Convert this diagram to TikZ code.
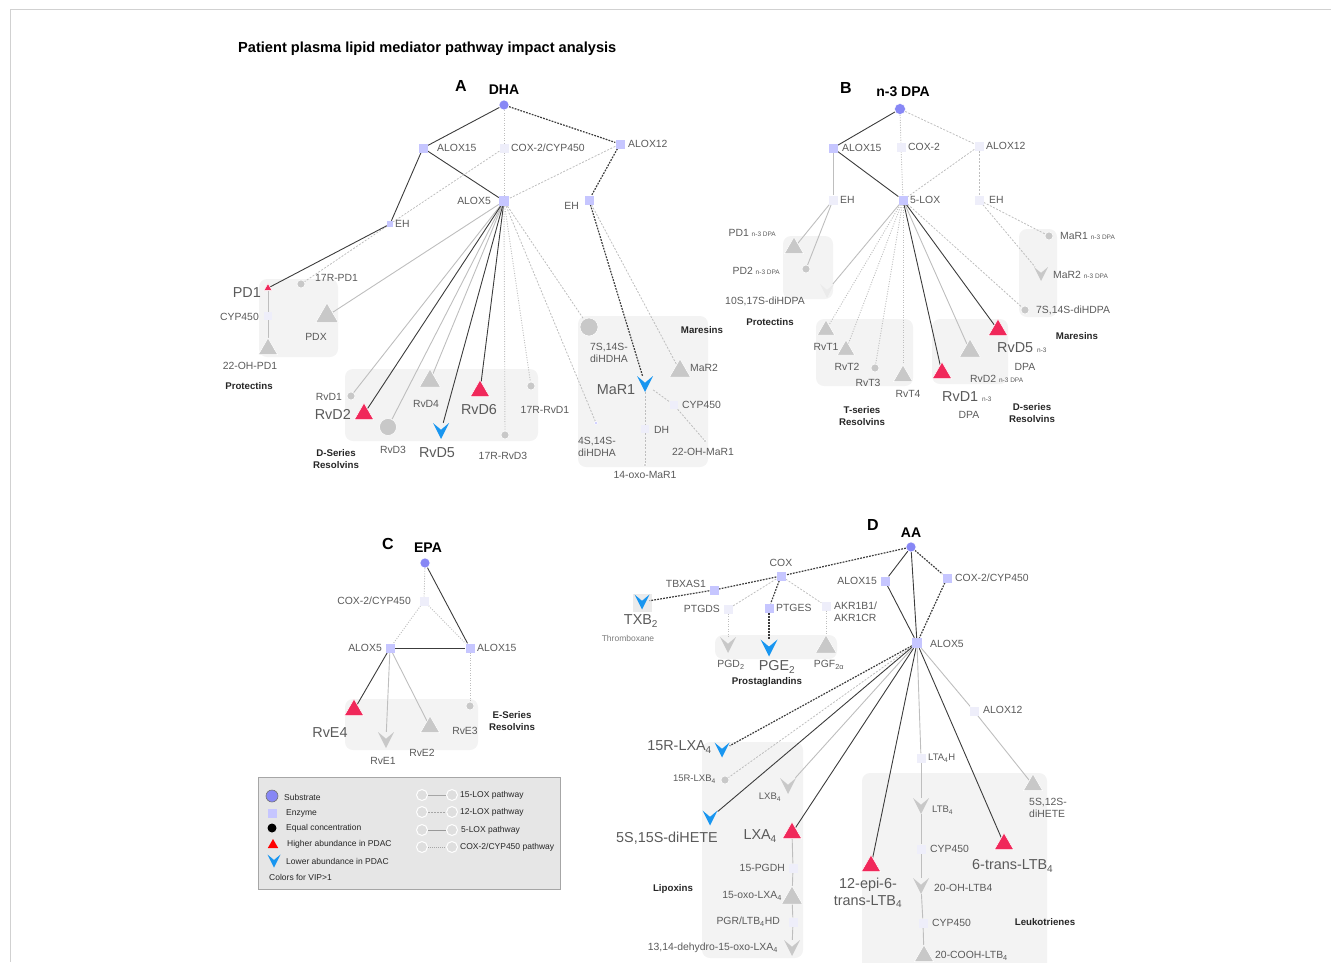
\documentclass[tikz,border=0pt]{standalone}
\usepackage{fontspec}
\setmainfont{Liberation Sans}
\usetikzlibrary{shapes.geometric,calc}
\pgfdeclarelayer{bg}\pgfdeclarelayer{edges}
\pgfsetlayers{bg,edges,main}
\definecolor{subs}{RGB}{135,135,245}
\definecolor{enzA}{RGB}{198,198,255}
\definecolor{enzB}{RGB}{238,238,250}
\definecolor{redM}{RGB}{240,40,90}
\definecolor{blueM}{RGB}{25,150,240}
\definecolor{grayM}{RGB}{200,200,200}
\definecolor{boxF}{RGB}{243,243,243}
\definecolor{dkL}{RGB}{60,60,60}
\definecolor{ltL}{RGB}{190,190,190}
\definecolor{txtG}{RGB}{90,90,90}
\definecolor{legF}{RGB}{230,230,230}
\newcommand{\nthr}[1]{{\fontsize{6.5}{7}\selectfont #1}}
\tikzset{
 circM/.style 2 args={circle, inner sep=0pt, minimum size=#1, fill=#2, draw=white, line width=0.5pt},
 sqM/.style 2 args={rectangle, inner sep=0pt, minimum size=#1, fill=#2},
 triM/.style 2 args={regular polygon, regular polygon sides=3, inner sep=0pt, minimum size=#1, fill=#2, draw=white, line width=0.5pt},
 chevM/.style 2 args={rectangle, inner sep=0pt, minimum width=#1, minimum height=#1,
   path picture={\fill[#2] (path picture bounding box.north west) -- (path picture bounding box.south) -- (path picture bounding box.north east) -- ($(path picture bounding box.north)!0.42!(path picture bounding box.south)$) -- cycle;}},
 sqA/.style={sqM={9}{enzA}},
 sqB/.style={sqM={9}{enzB}},
 eS/.style={draw=dkL, line width=0.9pt},
 eL/.style={draw=ltL, line width=0.9pt},
 eD/.style={draw=dkL, line width=1.2pt, dash pattern=on 1.8pt off 1.2pt},
 eDl/.style={draw=ltL, line width=0.8pt, dash pattern=on 2pt off 1.5pt},
 eT/.style={draw=ltL, line width=0.9pt, dash pattern=on 1pt off 1.5pt},
 lbl/.style={font=\fontsize{10.4}{12.5}\selectfont, text=txtG, inner sep=0pt},
 big/.style={font=\fontsize{14.4}{16.5}\selectfont, text=txtG, inner sep=0pt, align=center},
 sml/.style={font=\fontsize{8.5}{10}\selectfont, text=txtG!80, inner sep=0pt},
 grp/.style={font=\fontsize{9.7}{12.5}\selectfont\bfseries, text=black!85, inner sep=0pt, align=center},
 hd/.style={font=\fontsize{14}{16}\selectfont\bfseries, inner sep=0pt},
 ltr/.style={font=\fontsize{16}{18}\selectfont\bfseries, inner sep=0pt},
 leg/.style={font=\fontsize{8.5}{10}\selectfont, inner sep=0pt, anchor=west, text=black!85},
 grpbox/.style={fill=boxF, rounded corners=8pt},
 pwc/.style={circle, inner sep=0pt, minimum size=11, fill=black!13, draw=white, line width=1pt},
}
\begin{document}
\begin{tikzpicture}[x=1pt,y=-1pt]
\useasboundingbox (0,0) rectangle (1331,962);
\draw[black!18, line width=0.8pt] (1331,9) -- (10,9) -- (10,962);
\node[font=\fontsize{14.6}{16}\selectfont\bfseries, anchor=west, inner sep=0pt] (title) at (238,49) {Patient plasma lipid mediator pathway impact analysis};

% ================= group boxes =================
\begin{pgfonlayer}{bg}
\fill[grpbox] (259,279) rectangle (338,357);
\fill[grpbox] (345,369) rectangle (538,441);
\fill[grpbox] (578,316) rectangle (708,467);
\fill[grpbox] (783,236) rectangle (833,299);
\fill[grpbox] (816,319) rectangle (913,386);
\fill[grpbox] (932,319) rectangle (1008,384);
\fill[grpbox] (1019,229) rectangle (1057,317);
\fill[grpbox] (345,699) rectangle (478,750);
\fill[grpbox] (715,635) rectangle (837,659);
\fill[grpbox] (702,742) rectangle (803,958);
\fill[grpbox] (862,773) rectangle (1047,975);
\fill[black!8] (633,594) rectangle (652,612);
\end{pgfonlayer}

% ================= Panel A =================
\node[ltr] (Aletter) at (461,86) {A};
\node[hd] (DHAlbl) at (504,90) {DHA};
\node[circM={10}{subs}] (aDHA) at (504,105) {};
\node[sqA] (aALOX15) at (423,148) {};
\node[sqB] (aCOX) at (504,148) {};
\node[sqA] (aALOX12) at (620,144) {};
\node[sqM={10}{enzA}] (aALOX5) at (504,201) {};
\node[sqM={6}{enzA}] (aEH1) at (390,224) {};
\node[sqA] (aEH2) at (589,200) {};
\node[triM={9}{redM}] (aPD1) at (268,288) {};
\node[sqM={8}{enzB}] (aCYP1) at (268,316) {};
\node[triM={22}{grayM}] (aOHPD1) at (268,349) {};
\node[circM={8}{grayM}] (a17RPD1) at (301,284) {};
\node[triM={26}{grayM}] (aPDX) at (327,316) {};
\node[circM={8}{grayM}] (aRvD1) at (351,396) {};
\node[triM={22}{redM}] (aRvD2) at (364,414) {};
\node[circM={17}{grayM}] (aRvD3) at (388,427) {};
\node[triM={24}{grayM}] (aRvD4) at (430,381) {};
\node[chevM={16}{blueM}] (aRvD5) at (441,431) {};
\node[triM={22}{redM}] (aRvD6) at (480,391) {};
\node[circM={8}{grayM}] (a17RRvD1) at (531,386) {};
\node[circM={8}{grayM}] (a17RRvD3) at (505,435) {};
\node[circM={18}{grayM}] (a7S14S) at (589,327) {};
\node[chevM={16}{blueM}] (aMaR1) at (645,384) {};
\node[triM={24}{grayM}] (aMaR2) at (680,371) {};
\node[sqM={8}{enzB}] (aCYP2) at (674,405) {};
\node[sqM={8}{enzB}] (aDH) at (645,429) {};
\node[circM={3.5}{grayM}] (a22OH) at (705,441) {};
\node[circM={3.5}{enzA}] (a4S14S) at (596,423) {};
\node[circM={3.5}{grayM}] (a14oxo) at (645,465) {};

\node[lbl, anchor=west] (laALOX15) at (437,148) {ALOX15};
\node[lbl, anchor=west] (laCOX) at (511,148) {COX-2/CYP450};
\node[lbl, anchor=west] (laALOX12) at (628,144) {ALOX12};
\node[lbl, anchor=east] (laALOX5) at (491,201) {ALOX5};
\node[lbl, anchor=west] (laEH1) at (395,224) {EH};
\node[lbl, anchor=east] (laEH2) at (579,206) {EH};
\node[big, anchor=east] (laPD1) at (261,293) {PD1};
\node[lbl, anchor=east] (laCYP1) at (259,317) {CYP450};
\node[lbl] (laOHPD1) at (250,366) {22-OH-PD1};
\node[lbl, anchor=west] (la17RPD1) at (315,278) {17R-PD1};
\node[lbl] (laPDX) at (316,337) {PDX};
\node[grp] (laProt) at (249,386) {Protectins};
\node[lbl, anchor=east] (laRvD1) at (342,397) {RvD1};
\node[big, anchor=east] (laRvD2) at (351,414) {RvD2};
\node[lbl] (laRvD3) at (393,450) {RvD3};
\node[lbl] (laRvD4) at (426,404) {RvD4};
\node[big] (laRvD5) at (437,453) {RvD5};
\node[big] (laRvD6) at (479,410) {RvD6};
\node[lbl] (la17RRvD1) at (545,410) {17R-RvD1};
\node[lbl] (la17RRvD3) at (503,456) {17R-RvD3};
\node[grp] (laDser) at (336,459) {D-Series\\Resolvins};
\node[lbl, align=left, anchor=west] (la7S14S) at (590,353) {7S,14S-\\diHDHA};
\node[grp] (laMar) at (702,330) {Maresins};
\node[big] (laMaR1) at (616,390) {MaR1};
\node[lbl, anchor=west] (laMaR2) at (690,368) {MaR2};
\node[lbl, anchor=west] (laCYP2) at (682,405) {CYP450};
\node[lbl, anchor=west] (laDH) at (654,430) {DH};
\node[lbl] (la22OH) at (703,452) {22-OH-MaR1};
\node[lbl, align=left, anchor=west] (la4S14S) at (578,447) {4S,14S-\\diHDHA};
\node[lbl] (la14oxo) at (645,475) {14-oxo-MaR1};

\begin{pgfonlayer}{edges}
\draw[eS] (aDHA) -- (aALOX15);
\draw[eT] (aDHA) -- (aCOX);
\draw[eD] (aDHA) -- (aALOX12);
\draw[eS] (aALOX15) -- (aALOX5);
\draw[eS] (aALOX15) -- (aEH1);
\draw[eT] (aCOX) -- (aALOX5);
\draw[eDl] (aCOX) -- (aEH1);
\draw[eDl] (aEH1) -- (a17RPD1);
\draw[eDl] (aALOX12) -- (aALOX5);
\draw[eD] (aALOX12) -- (aEH2);
\draw[eS] (aEH1) -- (aPD1);
\draw[eL] (aPD1) -- (aCYP1);
\draw[eL] (aCYP1) -- (aOHPD1);
\foreach \t in {aPDX,aRvD1,aRvD3,aRvD4} \draw[eL] (aALOX5) -- (\t);
\foreach \t in {aRvD2,aRvD5,aRvD6} \draw[eS] (aALOX5) -- (\t);
\foreach \t in {a17RRvD1,a17RRvD3} \draw[eT] (aALOX5) -- (\t);
\foreach \t in {a4S14S,a7S14S} \draw[eDl] (aALOX5) -- (\t);
\draw[eD] (aEH2) -- (aMaR1);
\draw[eDl] (aEH2) -- (aMaR2);
\draw[eDl] (aMaR1) -- (aCYP2);
\draw[eDl] (aCYP2) -- (a22OH);
\draw[eDl] (aMaR1) -- (aDH);
\draw[eDl] (aDH) -- (a14oxo);
\end{pgfonlayer}

% ================= Panel B =================
\node[ltr] (Bletter) at (846,88) {B};
\node[hd] (DPAlbl) at (903,92) {n-3 DPA};
\node[circM={11}{subs}] (bDPA) at (900,109) {};
\node[sqA] (bALOX15) at (833,148) {};
\node[sqB] (bCOX) at (901,147) {};
\node[sqB] (bALOX12) at (979,146) {};
\node[sqB] (bEH1) at (833,200) {};
\node[sqA] (bLOX5) at (903,200) {};
\node[sqB] (bEH2) at (979,200) {};
\node[triM={22}{grayM}] (bPD1) at (794,248) {};
\node[circM={8}{grayM}] (bPD2) at (806,269) {};
\node[chevM={14}{black!8}] (b10S17S) at (827,291) {};
\node[triM={20}{grayM}] (bRvT1) at (826,330) {};
\node[triM={20}{grayM}] (bRvT2) at (846,350) {};
\node[circM={8}{grayM}] (bRvT3) at (875,368) {};
\node[triM={22}{grayM}] (bRvT4) at (903,376) {};
\node[triM={22}{redM}] (bRvD1) at (942,373) {};
\node[triM={24}{grayM}] (bRvD2) at (970,351) {};
\node[triM={22}{redM}] (bRvD5) at (998,330) {};
\node[circM={8}{grayM}] (bMaR1) at (1049,236) {};
\node[chevM={14}{grayM}] (bMaR2) at (1041,274) {};
\node[circM={8}{grayM}] (b7S14S) at (1025,310) {};

\node[lbl, anchor=west] (lbALOX15) at (842,148) {ALOX15};
\node[lbl, anchor=west] (lbCOX) at (908,147) {COX-2};
\node[lbl, anchor=west] (lbALOX12) at (986,146) {ALOX12};
\node[lbl, anchor=west] (lbEH1) at (840,200) {EH};
\node[lbl, anchor=west] (lbLOX5) at (910,200) {5-LOX};
\node[lbl, anchor=west] (lbEH2) at (989,200) {EH};
\node[lbl, anchor=east] (lbPD1) at (776,233) {PD1 \nthr{n-3 DPA}};
\node[lbl, anchor=east] (lbPD2) at (780,271) {PD2 \nthr{n-3 DPA}};
\node[lbl] (lb10S17S) at (765,301) {10S,17S-diHDPA};
\node[grp] (lbProt) at (770,322) {Protectins};
\node[lbl] (lbRvT1) at (826,347) {RvT1};
\node[lbl] (lbRvT2) at (847,367) {RvT2};
\node[lbl] (lbRvT3) at (868,383) {RvT3};
\node[lbl] (lbRvT4) at (908,394) {RvT4};
\node[grp] (lbTser) at (862,416) {T-series\\Resolvins};
\node[big, anchor=west] (lbRvD5) at (997,348) {RvD5 \nthr{n-3}};
\node[lbl] (lbRvD5b) at (1025,367) {DPA};
\node[lbl, anchor=west] (lbRvD2) at (970,379) {RvD2 \nthr{n-3 DPA}};
\node[big, anchor=west] (lbRvD1) at (942,397) {RvD1 \nthr{n-3}};
\node[lbl] (lbRvD1b) at (969,415) {DPA};
\node[grp] (lbDser) at (1032,413) {D-series\\Resolvins};
\node[lbl, anchor=west] (lbMaR1) at (1060,236) {MaR1 \nthr{n-3 DPA}};
\node[lbl, anchor=west] (lbMaR2) at (1053,275) {MaR2 \nthr{n-3 DPA}};
\node[lbl, anchor=west] (lb7S14S) at (1036,310) {7S,14S-diHDPA};
\node[grp] (lbMar) at (1077,336) {Maresins};

\begin{pgfonlayer}{edges}
\draw[eS] (bDPA) -- (bALOX15);
\draw[eT] (bDPA) -- (bCOX);
\draw[eDl] (bDPA) -- (bALOX12);
\draw[eL] (bALOX15) -- (bEH1);
\draw[eS] (bALOX15) -- (bLOX5);
\draw[eT] (bCOX) -- (bLOX5);
\draw[eDl] (bALOX12) -- (bLOX5);
\draw[eDl] (bALOX12) -- (bEH2);
\draw[eL] (bEH1) -- (bPD1);
\draw[eL] (bEH1) -- (bPD2);
\draw[eL] (bLOX5) -- (b10S17S);
\foreach \t in {bRvT1,bRvT2,bRvT3,bRvT4} \draw[eT] (bLOX5) -- (\t);
\draw[eS] (bLOX5) -- (bRvD1);
\draw[eL] (bLOX5) -- (bRvD2);
\draw[eS] (bLOX5) -- (bRvD5);
\draw[eDl] (bLOX5) -- (b7S14S);
\draw[eDl] (bEH2) -- (bMaR1);
\draw[eDl] (bEH2) -- (bMaR2);
\end{pgfonlayer}

% ================= Panel C =================
\node[ltr] (Cletter) at (388,544) {C};
\node[hd] (EPAlbl) at (428,548) {EPA};
\node[circM={10}{subs}] (cEPA) at (425,563) {};
\node[sqB] (cCOX) at (424,601) {};
\node[sqA] (cALOX5) at (390,648) {};
\node[sqA] (cALOX15) at (470,648) {};
\node[triM={22}{redM}] (cRvE4) at (354,710) {};
\node[chevM={16}{grayM}] (cRvE1) at (386,740) {};
\node[triM={22}{grayM}] (cRvE2) at (430,727) {};
\node[circM={8}{grayM}] (cRvE3) at (470,706) {};
\node[lbl, anchor=east] (lcCOX) at (411,601) {COX-2/CYP450};
\node[lbl, anchor=east] (lcALOX5) at (382,648) {ALOX5};
\node[lbl, anchor=west] (lcALOX15) at (477,648) {ALOX15};
\node[big] (lcRvE4) at (330,733) {RvE4};
\node[lbl] (lcRvE1) at (383,761) {RvE1};
\node[lbl] (lcRvE2) at (422,753) {RvE2};
\node[lbl] (lcRvE3) at (465,731) {RvE3};
\node[grp] (lcEser) at (512,721) {E-Series\\Resolvins};
\begin{pgfonlayer}{edges}
\draw[eT] (cEPA) -- (cCOX);
\draw[eS] (cEPA) -- (cALOX15);
\draw[eT] (cCOX) -- (cALOX5);
\draw[eT] (cCOX) -- (cALOX15);
\draw[eS] (cALOX5) -- (cALOX15);
\draw[eS] (cALOX5) -- (cRvE4);
\draw[eL] (cALOX5) -- (cRvE1);
\draw[eL] (cALOX5) -- (cRvE2);
\draw[eT] (cALOX15) -- (cRvE3);
\end{pgfonlayer}

% ================= Legend =================
\node[draw=black!35, fill=legF, minimum width=302, minimum height=112, inner sep=0pt, anchor=north west, line width=0.8pt] (legbox) at (258,777) {};
\node[circle, inner sep=0pt, minimum size=12, fill=subs, draw=black!55, line width=0.6pt] (gSub) at (272,796) {};
\node[sqM={9}{enzA}] (gEnz) at (272,813) {};
\node[circle, inner sep=0pt, minimum size=9, fill=black] (gEq) at (272,828) {};
\node[regular polygon, regular polygon sides=3, inner sep=0pt, minimum size=12, fill=red] (gHi) at (273,845) {};
\node[chevM={13}{blueM}] (gLo) at (274,861) {};
\node[leg] (tSub) at (284,797) {Substrate};
\node[leg] (tEnz) at (286,813) {Enzyme};
\node[leg] (tEq) at (286,828) {Equal concentration};
\node[leg] (tHi) at (287,844) {Higher abundance in PDAC};
\node[leg] (tLo) at (286,861) {Lower abundance in PDAC};
\node[leg] (tVIP) at (269,877) {Colors for VIP>1};
\node[pwc] (p1a) at (422,795) {}; \node[pwc] (p1b) at (452,795) {};
\node[pwc] (p2a) at (422,812) {}; \node[pwc] (p2b) at (452,812) {};
\node[pwc] (p3a) at (422,830) {}; \node[pwc] (p3b) at (452,830) {};
\node[pwc] (p4a) at (422,847) {}; \node[pwc] (p4b) at (452,847) {};
\draw[black!35, line width=0.7pt] (p1a) -- (p1b);
\draw[black!35, line width=0.7pt, dash pattern=on 2pt off 1pt] (p2a) -- (p2b);
\draw[black!40, line width=1pt] (p3a) -- (p3b);
\draw[black!35, line width=0.7pt, dash pattern=on 1pt off 1pt] (p4a) -- (p4b);
\node[leg] (tP1) at (460,795) {15-LOX pathway};
\node[leg] (tP2) at (460,812) {12-LOX pathway};
\node[leg] (tP3) at (461,830) {5-LOX pathway};
\node[leg] (tP4) at (460,847) {COX-2/CYP450 pathway};

% ================= Panel D =================
\node[ltr] (Dletter) at (873,525) {D};
\node[hd] (AAlbl) at (911,533) {AA};
\node[circM={10}{subs}] (dAA) at (911,547) {};
\node[sqA] (dCOX) at (781,576) {};
\node[sqA] (dTBX) at (714,590) {};
\node[chevM={15}{blueM}] (dTXB2) at (642,602) {};
\node[sqB] (dPTGDS) at (728,609) {};
\node[sqA] (dPTGES) at (769,608) {};
\node[sqB] (dAKR) at (826,606) {};
\node[chevM={16}{grayM}] (dPGD2) at (728,645) {};
\node[chevM={17}{blueM}] (dPGE2) at (769,648) {};
\node[triM={24}{grayM}] (dPGF2) at (826,647) {};
\node[sqA] (dALOX15) at (885,581) {};
\node[sqA] (dCOX2) at (947,578) {};
\node[sqM={10}{enzA}] (dALOX5) at (917,643) {};
\node[sqB] (dALOX12) at (974,711) {};
\node[chevM={15}{blueM}] (d15RLXA4) at (722,750) {};
\node[circM={8}{grayM}] (d15RLXB4) at (725,780) {};
\node[chevM={16}{grayM}] (dLXB4) at (788,786) {};
\node[chevM={15}{blueM}] (d5S15S) at (710,818) {};
\node[triM={22}{redM}] (dLXA4) at (792,833) {};
\node[sqB] (dPGDH) at (793,868) {};
\node[triM={24}{grayM}] (d15oxo) at (792,898) {};
\node[sqB] (dPGR) at (793,922) {};
\node[chevM={16}{grayM}] (d1314) at (792,948) {};
\node[sqB] (dLTA4H) at (921,758) {};
\node[chevM={16}{grayM}] (dLTB4) at (921,806) {};
\node[sqB] (dCYPa) at (921,849) {};
\node[chevM={16}{grayM}] (d20OH) at (921,886) {};
\node[sqB] (dCYPb) at (923,923) {};
\node[triM={22}{grayM}] (d20COOH) at (924,956) {};
\node[triM={22}{redM}] (d12epi) at (871,866) {};
\node[triM={22}{redM}] (d6trans) at (1004,844) {};
\node[triM={22}{grayM}] (d5S12S) at (1033,785) {};

\node[lbl] (ldCOX) at (781,563) {COX};
\node[lbl, anchor=east] (ldTBX) at (706,584) {TBXAS1};
\node[big] (ldTXB2) at (641,621) {TXB\textsubscript{2}};
\node[sml] (ldThr) at (628,638) {Thromboxane};
\node[lbl, anchor=east] (ldPTGDS) at (720,609) {PTGDS};
\node[lbl, anchor=west] (ldPTGES) at (776,608) {PTGES};
\node[lbl, anchor=west, align=left] (ldAKR) at (834,612) {AKR1B1/\\AKR1CR};
\node[lbl] (ldPGD2) at (731,665) {PGD\textsubscript{2}};
\node[big] (ldPGE2) at (777,667) {PGE\textsubscript{2}};
\node[lbl] (ldPGF2) at (829,665) {PGF\textsubscript{2α}};
\node[grp] (ldProst) at (767,682) {Prostaglandins};
\node[lbl, anchor=east] (ldALOX15) at (877,581) {ALOX15};
\node[lbl, anchor=west] (ldCOX2) at (955,578) {COX-2/CYP450};
\node[lbl, anchor=west] (ldALOX5) at (930,644) {ALOX5};
\node[lbl, anchor=west] (ldALOX12) at (983,710) {ALOX12};
\node[big, anchor=east] (ld15RLXA4) at (712,747) {15R-LXA\textsubscript{4}};
\node[lbl, anchor=east, font=\fontsize{9.5}{11}\selectfont] (ld15RLXB4) at (716,779) {15R-LXB\textsubscript{4}};
\node[lbl, font=\fontsize{9.5}{11}\selectfont] (ldLXB4) at (770,797) {LXB\textsubscript{4}};
\node[big] (ld5S15S) at (667,838) {5S,15S-diHETE};
\node[big, anchor=east] (ldLXA4) at (777,836) {LXA\textsubscript{4}};
\node[lbl, anchor=east] (ldPGDH) at (785,868) {15-PGDH};
\node[lbl, anchor=east] (ld15oxo) at (782,896) {15-oxo-LXA\textsubscript{4}};
\node[lbl, anchor=east] (ldPGR) at (780,922) {PGR/LTB\textsubscript{4}HD};
\node[lbl, anchor=east] (ld1314) at (778,948) {13,14-dehydro-15-oxo-LXA\textsubscript{4}};
\node[grp] (ldLipox) at (673,889) {Lipoxins};
\node[lbl, anchor=west, font=\fontsize{9.5}{11}\selectfont] (ldLTA4H) at (928,758) {LTA\textsubscript{4}H};
\node[lbl, anchor=west, font=\fontsize{9.5}{11}\selectfont] (ldLTB4) at (932,810) {LTB\textsubscript{4}};
\node[lbl, anchor=west] (ldCYPa) at (930,849) {CYP450};
\node[lbl, anchor=west] (ld20OH) at (934,888) {20-OH-LTB4};
\node[lbl, anchor=west] (ldCYPb) at (932,923) {CYP450};
\node[lbl, anchor=west] (ld20COOH) at (935,956) {20-COOH-LTB\textsubscript{4}};
\node[big] (ld12epi) at (868,893) {12-epi-6-\\trans-LTB\textsubscript{4}};
\node[big, anchor=west] (ld6trans) at (972,866) {6-trans-LTB\textsubscript{4}};
\node[lbl, align=left] (ld5S12S) at (1048,808) {5S,12S-\\diHETE};
\node[grp] (ldLeuk) at (1045,922) {Leukotrienes};

\begin{pgfonlayer}{edges}
\draw[eD] (dAA) -- (dCOX);
\draw[eD] (dCOX) -- (dTBX);
\draw[eD] (dTBX) -- (dTXB2);
\draw[eDl] (dCOX) -- (dPTGDS);
\draw[eD] (dCOX) -- (dPTGES);
\draw[eDl] (dCOX) -- (dAKR);
\draw[eT] (dPTGDS) -- (dPGD2);
\draw[eD] (dPTGES) -- (dPGE2);
\draw[eT] (dAKR) -- (dPGF2);
\draw[eS] (dAA) -- (dALOX15);
\draw[eS] (dAA) -- (dALOX5);
\draw[eD] (dAA) -- (dCOX2);
\draw[eD] (dCOX2) -- (dALOX5);
\draw[eS] (dALOX15) -- (dALOX5);
\draw[eD] (dALOX5) -- (d15RLXA4);
\draw[eDl] (dALOX5) -- (d15RLXB4);
\foreach \t in {d5S15S,dLXA4,d12epi,d6trans} \draw[eS] (dALOX5) -- (\t);
\foreach \t in {dLXB4,dLTA4H,dALOX12} \draw[eL] (dALOX5) -- (\t);
\draw[eL] (dALOX12) -- (d5S12S);
\draw[eL] (dLTA4H) -- (dLTB4);
\draw[eL] (dLTB4) -- (dCYPa);
\draw[eL] (dCYPa) -- (d20OH);
\draw[eL] (d20OH) -- (dCYPb);
\draw[eL] (dCYPb) -- (d20COOH);
\draw[eL] (dLXA4) -- (dPGDH);
\draw[eL] (dPGDH) -- (d15oxo);
\draw[eL] (d15oxo) -- (dPGR);
\draw[eL] (dPGR) -- (d1314);
\end{pgfonlayer}
\end{tikzpicture}
\end{document}
